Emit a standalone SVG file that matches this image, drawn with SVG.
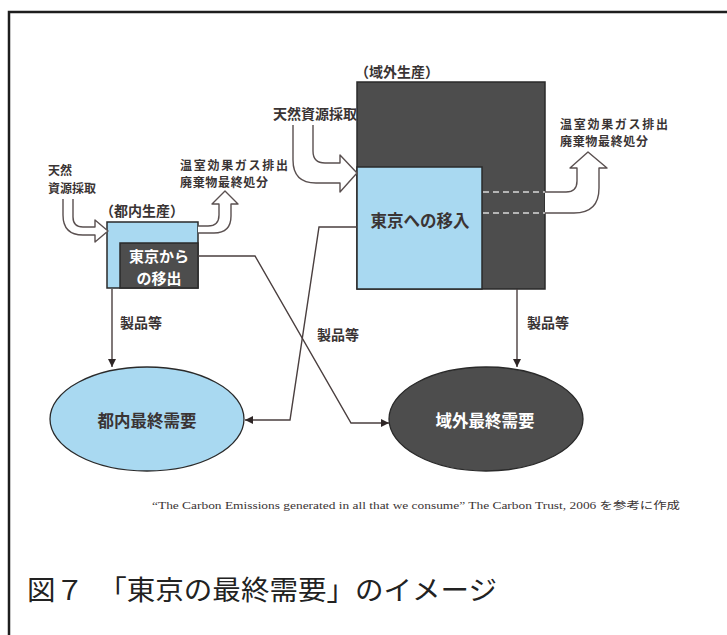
<svg xmlns="http://www.w3.org/2000/svg" width="727" height="635" viewBox="0 0 727 635">
  <defs>
    <marker id="ah" viewBox="0 0 10 10" refX="10" refY="5" markerWidth="9" markerHeight="8" markerUnits="userSpaceOnUse" orient="auto">
      <path d="M0,0 L10,5 L0,10 Z" fill="#2e2626"/>
    </marker>
    <style>
      .jp { font-family: "Noto Sans CJK JP", "Noto Sans", sans-serif; }
      .lbl { font-size: 12px; font-weight: bold; fill: #3a3434; }
      .lbl14 { font-size: 14px; font-weight: bold; fill: #3a3434; }
      .big { font-size: 16.5px; font-weight: bold; }
      .dark { fill: #3a3434; }
      .white { fill: #ffffff; }
      .blue { fill: #a9d9f1; stroke: #2a2a2a; stroke-width: 1.5; }
      .grey { fill: #4d4d4d; stroke: #2a2a2a; stroke-width: 1.5; }
      .flow { fill: #ffffff; stroke: #5a5050; stroke-width: 1.4; stroke-linejoin: round; }
      .line { fill: none; stroke: #4a3f3f; stroke-width: 1.4; }
      .dash { fill: none; stroke: #d8d8d8; stroke-width: 1.4; stroke-dasharray: 6 4; }
    </style>
  </defs>

  <rect x="0" y="0" width="727" height="635" fill="#ffffff"/>
  <path d="M9,635 L9,12 L727,12" fill="none" stroke="#1e1e1e" stroke-width="2.5"/>

  <!-- nodes -->
  <g id="node-tonai-seisan">
    <text class="jp lbl14" x="100" y="216">（都内生産）</text>
    <rect class="blue" x="107" y="222" width="91" height="66"/>
    <rect class="grey" x="120" y="243" width="78" height="45"/>
    <text class="jp white" x="159" y="262" text-anchor="middle" font-size="15" font-weight="bold">東京から</text>
    <text class="jp white" x="159" y="284" text-anchor="middle" font-size="15" font-weight="bold">の移出</text>
  </g>

  <g id="node-ikigai-seisan">
    <text class="jp lbl14" x="355" y="77">（域外生産）</text>
    <rect class="grey" x="357" y="82" width="188" height="207"/>
    <rect class="blue" x="357" y="167" width="125" height="122"/>
    <text class="jp big dark" x="420" y="227" text-anchor="middle">東京への移入</text>
  </g>

  <g id="node-tonai-demand">
    <ellipse cx="147" cy="419" rx="97" ry="52" fill="#a9d9f1" stroke="#2a2a2a" stroke-width="1.3"/>
    <text class="jp big dark" x="147" y="427" text-anchor="middle" font-size="17">都内最終需要</text>
  </g>

  <g id="node-ikigai-demand">
    <ellipse cx="486" cy="419" rx="97" ry="52" fill="#4d4d4d" stroke="#2a2a2a" stroke-width="1.3"/>
    <text class="jp big white" x="485" y="427" text-anchor="middle" font-size="17">域外最終需要</text>
  </g>

  <!-- connectors -->
  <g id="connectors">
    <path class="flow" d="M63,199 L63,215 Q63,235 83,235 L95,235 L95,242 L108,231 L95,220 L95,227 L83,227 Q73,227 73,217 L73,199"/>
    <path class="flow" d="M198,226 L208,226 Q219,226 219,215 L219,204 L212,204 L225,191 L238,204 L231,204 L231,216 Q231,233 214,233 L198,233"/>
    <path class="flow" d="M293,125 L293,160 Q293,183 316,183 L340,183 L340,192 L357,173 L340,155 L340,163 L325,163 Q313,163 313,151 L313,125"/>
    <path class="flow" d="M545,192 L566,192 Q577,192 577,181 L577,168 L570,168 L588,152 L607,168 L599,168 L599,188 Q599,213 574,213 L545,213"/>
    <line class="dash" x1="483" y1="192" x2="545" y2="192"/>
    <line class="dash" x1="483" y1="213" x2="545" y2="213"/>

    <path class="line" d="M112,289 L112,367" marker-end="url(#ah)"/>
    <path class="line" d="M517,289 L517,367" marker-end="url(#ah)"/>
    <path class="line" d="M198,256 L255,256 L351,423 L389,423" marker-end="url(#ah)"/>
    <path class="line" d="M357,227 L319,227 L290,420 L245,420" marker-end="url(#ah)"/>
  </g>

  <!-- connector labels -->
  <g id="labels">
    <text class="jp lbl" x="48" y="175" font-size="13">天然</text>
    <text class="jp lbl" x="48" y="193" font-size="13">資源採取</text>
    <text class="jp lbl" x="180" y="170" textLength="108" lengthAdjust="spacing">温室効果ガス排出</text>
    <text class="jp lbl" x="180" y="187" textLength="88" lengthAdjust="spacing">廃棄物最終処分</text>
    <text class="jp lbl14" x="273" y="119">天然資源採取</text>
    <text class="jp lbl" x="560" y="129" textLength="108" lengthAdjust="spacing">温室効果ガス排出</text>
    <text class="jp lbl" x="560" y="146" textLength="88" lengthAdjust="spacing">廃棄物最終処分</text>
    <text class="jp lbl14" x="120" y="328">製品等</text>
    <text class="jp lbl14" x="317" y="340">製品等</text>
    <text class="jp lbl14" x="527" y="328">製品等</text>
  </g>

  <!-- footnote and caption -->
  <text x="152" y="509" font-family="'Liberation Serif', 'Noto Sans CJK JP', serif" font-size="10.5" fill="#3a3434" textLength="528" lengthAdjust="spacingAndGlyphs">“The Carbon Emissions generated in all that we consume” The Carbon Trust, 2006 を参考に作成</text>
  <text x="27" y="600" font-family="'Noto Sans CJK JP', 'Noto Sans', sans-serif" font-size="27" fill="#222222" textLength="470" lengthAdjust="spacingAndGlyphs">図７　「東京の最終需要」のイメージ</text>
</svg>
